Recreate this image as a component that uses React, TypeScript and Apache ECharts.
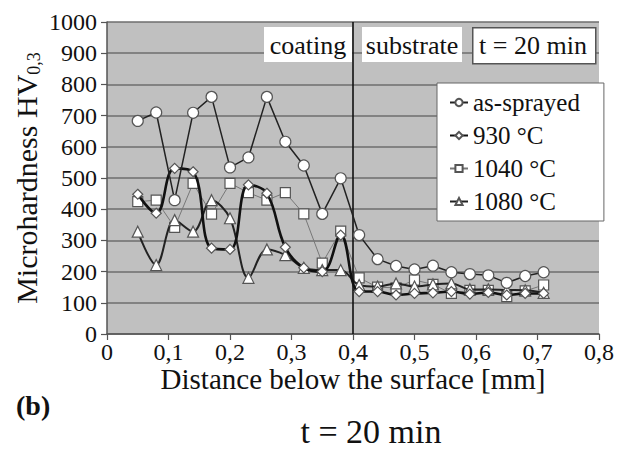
import React, { useEffect, useRef } from "react";
import * as echarts from "echarts";

const distances = [0.05, 0.08, 0.11, 0.14, 0.17, 0.2, 0.23, 0.26, 0.29, 0.32, 0.35, 0.38, 0.41, 0.44, 0.47, 0.5, 0.53, 0.56, 0.59, 0.62, 0.65, 0.68, 0.71];
const asSprayed = [683, 710, 429, 709, 760, 534, 566, 760, 616, 540, 385, 499, 317, 240, 218, 207, 219, 198, 192, 188, 164, 186, 198];
const t930 = [448, 387, 531, 520, 275, 271, 478, 451, 278, 212, 200, 317, 136, 136, 125, 130, 132, 136, 128, 133, 125, 130, 130];
const t1040 = [424, 429, 342, 483, 384, 483, 453, 429, 453, 385, 227, 330, 180, 150, 148, 173, 159, 130, 140, 140, 120, 138, 157];
const t1080 = [328, 221, 365, 328, 429, 371, 180, 271, 253, 212, 205, 205, 157, 152, 162, 152, 159, 162, 143, 143, 141, 140, 132];

const seriesNames = ["as-sprayed", "930 °C", "1040 °C", "1080 °C"];
const boundary = 0.404;
const zoneLabels = ["coating", "substrate", "t = 20 min"];

const FONT = "Liberation Serif";

const pairs = (ys: number[]) => distances.map((x, i) => [x, ys[i]]);

export default function App() {
  const ref = useRef<HTMLDivElement>(null);
  useEffect(() => {
    if (!ref.current) return;
    const chart = echarts.init(ref.current, undefined, { renderer: "svg" });
    const markerStyle = { color: "#ffffff", borderColor: "#555555", borderWidth: 1.2 };
    const option: any = {
      animation: false,
      textStyle: { fontFamily: FONT },
      grid: {
        left: 107,
        right: 23,
        top: 22,
        bottom: 115,
        show: true,
        backgroundColor: "#c0c0c0",
        borderWidth: 0,
        containLabel: false,
        outerBoundsMode: "none",
      },
      xAxis: {
        type: "value",
        min: 0,
        max: 0.8,
        interval: 0.1,
        name: "Distance below the surface [mm]",
        nameLocation: "middle",
        nameGap: 30,
        nameMoveOverlap: false,
        nameTextStyle: { fontFamily: FONT, fontSize: 29, color: "#111" },
        axisLine: { show: true, lineStyle: { color: "#555", width: 1.5 } },
        axisTick: { show: true, length: 6, lineStyle: { color: "#555", width: 1.2 } },
        axisLabel: {
          fontFamily: FONT,
          fontSize: 24,
          color: "#111",
          margin: 6,
          formatter: (v: number) => String(+v.toFixed(1)).replace(".", ","),
        },
        splitLine: { show: false },
      },
      yAxis: {
        type: "value",
        min: 0,
        max: 1000,
        interval: 100,
        name: "Microhardness HV{sub|0,3}",
        nameLocation: "middle",
        nameGap: 64,
        nameMoveOverlap: false,
        nameTextStyle: {
          fontFamily: FONT,
          fontSize: 30,
          color: "#111",
          rich: {
            sub: { fontFamily: FONT, fontSize: 18, color: "#111", verticalAlign: "bottom", lineHeight: 34 },
          },
        },
        axisLine: { show: true, lineStyle: { color: "#555", width: 1.5 } },
        axisTick: { show: true, length: 6, lineStyle: { color: "#555", width: 1.2 } },
        axisLabel: {
          fontFamily: FONT,
          fontSize: 24,
          color: "#111",
          margin: 10,
          formatter: (v: number) => String(v),
        },
        splitLine: { show: true, lineStyle: { color: "#6e6e6e", width: 1.6 } },
      },
      legend: {
        data: seriesNames,
        orient: "vertical",
        left: 437,
        top: 83,
        backgroundColor: "#ffffff",
        borderColor: "#666",
        borderWidth: 1,
        padding: [7, 24, 7, 12],
        itemGap: 8,
        itemWidth: 18,
        itemHeight: 9,
        textStyle: { fontFamily: FONT, fontSize: 25, color: "#111" },
      },
      series: [
        {
          name: seriesNames[0],
          type: "line",
          data: pairs(asSprayed),
          symbol: "circle",
          symbolSize: 11,
          z: 6,
          lineStyle: { color: "#222", width: 1.5 },
          itemStyle: markerStyle,
        },
        {
          name: seriesNames[1],
          type: "line",
          data: pairs(t930),
          symbol: "diamond",
          symbolSize: 10,
          smooth: 0.4,
          z: 5,
          lineStyle: { color: "#111", width: 2.6 },
          itemStyle: markerStyle,
        },
        {
          name: seriesNames[2],
          type: "line",
          data: pairs(t1040),
          symbol: "rect",
          symbolSize: 10,
          z: 3,
          lineStyle: { color: "#777", width: 1 },
          itemStyle: markerStyle,
          markLine: {
            silent: true,
            symbol: "none",
            label: { show: false },
            lineStyle: { color: "#111", width: 1.6, type: "solid" },
            data: [{ xAxis: boundary }],
          },
        },
        {
          name: seriesNames[3],
          type: "line",
          data: pairs(t1080),
          symbol: "triangle",
          symbolSize: 11,
          smooth: 0.35,
          z: 4,
          lineStyle: { color: "#222", width: 2 },
          itemStyle: markerStyle,
        },
      ],
      graphic: [
        { type: "rect", left: 264, top: 27, shape: { width: 88, height: 35 }, style: { fill: "#fff" }, z: 10 },
        {
          type: "text", x: 308, y: 45, z: 11,
          style: { text: zoneLabels[0], font: `26px ${FONT}`, fill: "#111", align: "center", verticalAlign: "middle" },
        },
        { type: "rect", left: 362, top: 27, shape: { width: 100, height: 35 }, style: { fill: "#fff" }, z: 10 },
        {
          type: "text", x: 412, y: 45, z: 11,
          style: { text: zoneLabels[1], font: `26px ${FONT}`, fill: "#111", align: "center", verticalAlign: "middle" },
        },
        {
          type: "rect", left: 472, top: 27, shape: { width: 123, height: 36 },
          style: { fill: "#fff", stroke: "#555", lineWidth: 1.5 }, z: 10,
        },
        {
          type: "text", x: 533, y: 45, z: 11,
          style: { text: zoneLabels[2], font: `26px ${FONT}`, fill: "#111", align: "center", verticalAlign: "middle" },
        },
        {
          type: "text", x: 16, y: 405, z: 11,
          style: { text: "(b)", font: `bold 28px ${FONT}`, fill: "#111", align: "left", verticalAlign: "middle" },
        },
        {
          type: "text", x: 371, y: 431, z: 11,
          style: { text: "t = 20 min", font: `34px ${FONT}`, fill: "#111", align: "center", verticalAlign: "middle" },
        },
      ],
    };
    chart.setOption(option);
    return () => chart.dispose();
  }, []);
  return (
    <div
      ref={ref}
      style={{ position: "absolute", left: 0, top: 0, width: 622, height: 449, background: "#fff" }}
    />
  );
}
